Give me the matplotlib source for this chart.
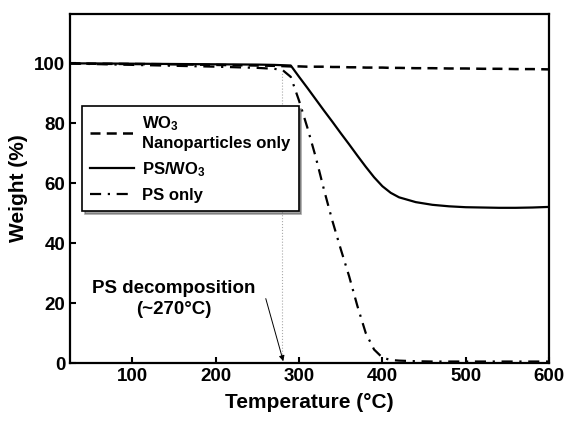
import numpy as np
import matplotlib.pyplot as plt

plt.rcParams['font.family'] = ['Liberation Sans', 'DejaVu Sans']
plt.rcParams['font.weight'] = 'bold'
plt.rcParams['mathtext.fontset'] = 'custom'
plt.rcParams['mathtext.rm'] = 'Liberation Sans:bold'
plt.rcParams['mathtext.bf'] = 'Liberation Sans:bold'
plt.rcParams['mathtext.default'] = 'bf'

# Datos (TGA)
temp = [25, 50, 100, 150, 200, 250, 270, 280, 290, 300, 310, 320, 330, 340,
        350, 360, 370, 380, 390, 400, 410, 420, 440, 460, 480, 500, 520,
        540, 560, 580, 600]
wo3_only = [100.0, 99.9, 99.8, 99.7, 99.5, 99.3, 99.2, 99.1, 99.0, 99.0,
            98.9, 98.9, 98.9, 98.8, 98.8, 98.7, 98.7, 98.6, 98.6, 98.6,
            98.5, 98.5, 98.4, 98.4, 98.3, 98.3, 98.2, 98.2, 98.1, 98.1, 98.0]
ps_wo3 = [100.0, 100.0, 99.9, 99.8, 99.7, 99.6, 99.5, 99.4, 99.3, 95.5,
          91.8, 88.0, 84.2, 80.5, 76.7, 73.0, 69.2, 65.5, 62.0, 59.0,
          56.8, 55.3, 53.7, 52.8, 52.3, 52.0, 51.9, 51.8, 51.8, 51.9, 52.1]
ps_only = [100.0, 99.8, 99.5, 99.2, 98.9, 98.5, 98.2, 97.8, 95.5, 87.5,
           78.5, 68.7, 57.7, 47.4, 38.0, 29.0, 19.0, 10.0, 4.5, 1.8,
           1.0, 0.8, 0.6, 0.5, 0.5, 0.5, 0.5, 0.5, 0.5, 0.5, 0.5]

fig = plt.figure(figsize=(5.66, 4.23), dpi=100)
ax = fig.add_axes([0.1237, 0.1418, 0.8463, 0.8252])

ax.plot(temp, wo3_only, color='black', lw=1.8, linestyle=(0, (4, 2.5)),
        label='WO$_3$\nNanoparticles only')
ax.plot(temp, ps_wo3, color='black', lw=1.6, linestyle='-', label='PS/WO$_3$')
ax.plot(temp, ps_only, color='black', lw=1.6, linestyle=(0, (5, 3, 1, 3)),
        label='PS only')

# linea vertical de descomposicion
ax.plot([280, 280], [0, 98], color='#aaaaaa', lw=0.8, linestyle=':')
ax.text(149, 21.5, 'PS decomposition\n(~270\u00b0C)', ha='center', va='center',
        fontsize=13.5, fontweight='bold', linespacing=1.3)
ax.annotate('', xy=(281, 0.6), xytext=(260, 21.5),
            arrowprops=dict(arrowstyle='-|>', color='black', lw=0.7,
                            mutation_scale=8, shrinkA=0, shrinkB=0))

ax.set_xlim(25, 600)
ax.set_ylim(0, 116.5)
ax.set_xticks([100, 200, 300, 400, 500, 600])
ax.set_yticks([0, 20, 40, 60, 80, 100])
ax.tick_params(direction='in', length=4, width=1.5, labelsize=13.5)
for s in ax.spines.values():
    s.set_linewidth(1.6)
ax.set_xlabel('Temperature (\u00b0C)', fontsize=15, fontweight='bold', labelpad=6)
ax.set_ylabel('Weight (%)', fontsize=15, fontweight='bold', labelpad=4)

leg = ax.legend(loc='upper left', bbox_to_anchor=(0.025, 0.735), fontsize=12,
                frameon=True, fancybox=False, shadow=True, handlelength=2.6,
                borderpad=0.5, labelspacing=0.55, handletextpad=0.5,
                borderaxespad=0)
leg.get_frame().set_edgecolor('black')
leg.get_frame().set_linewidth(1.2)

fig.savefig('out.png', dpi=100)
